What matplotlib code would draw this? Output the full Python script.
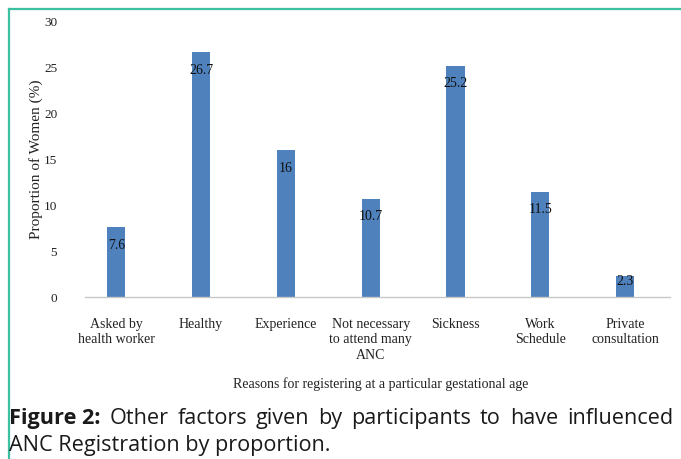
import matplotlib
matplotlib.use("Agg")
import matplotlib.pyplot as plt
from matplotlib.lines import Line2D

categories = ["Asked by\nhealth worker", "Healthy", "Experience",
              "Not necessary\nto attend many\nANC", "Sickness",
              "Work\nSchedule", "Private\nconsultation"]
values = [7.6, 26.7, 16, 10.7, 25.2, 11.5, 2.3]
value_labels = ["7.6", "26.7", "16", "10.7", "25.2", "11.5", "2.3"]
yticks = [0, 5, 10, 15, 20, 25, 30]
ylabel = "Proportion of Women (%)"
xlabel = "Reasons for registering at a particular gestational age"
caption_bold = "Figure 2:"
caption_line1 = "Other factors given by participants to have influenced"
caption_line2 = "ANC Registration by proportion."

W, H = 681, 459
fig = plt.figure(figsize=(W / 100, H / 100), dpi=100)
serif = "Liberation Serif"
bar_color = "#4f81bd"
teal = "#3dbfa2"

ax = fig.add_axes([85 / W, (H - 297) / H, 585 / W, 275 / H])
x = list(range(len(values)))
ax.bar(x, values, width=0.215, color=bar_color, zorder=2)
ax.set_xlim(-0.37, 6.53)
ax.set_ylim(0, 30)
ax.set_yticks(yticks)
ax.set_yticklabels([str(t) for t in yticks], fontfamily=serif, fontsize=9.5)
ax.set_xticks(x)
ax.set_xticklabels(categories, fontfamily=serif, fontsize=10, linespacing=1.25)
ax.tick_params(axis="y", length=0, pad=20, colors="#222222")
ax.tick_params(axis="x", length=0, pad=15, colors="#222222")
for s in ["top", "right", "left"]:
    ax.spines[s].set_visible(False)
ax.spines["bottom"].set_color("#c8c8c8")
ax.spines["bottom"].set_linewidth(1.0)
ax.set_ylabel(ylabel, fontfamily=serif, fontsize=11, color="#222222")
ax.yaxis.set_label_coords(-0.071, 0.5)
ax.set_xlabel(xlabel, fontfamily=serif, fontsize=10, color="#222222")
ax.xaxis.set_label_coords(0.505, -0.29)

for xi, v, lab in zip(x, values, value_labels):
    ylab = max(v - 1.95, 0.72 * v)
    ax.text(xi, ylab, lab, ha="center", va="center", fontfamily=serif,
            fontsize=10, color="#111111", zorder=3)

# teal frame (left and top)
fig.add_artist(Line2D([8.5 / W, 8.5 / W], [0, 1 - 8.5 / H], transform=fig.transFigure,
                      color=teal, lw=1.6))
fig.add_artist(Line2D([8.5 / W, 1], [1 - 8.5 / H, 1 - 8.5 / H], transform=fig.transFigure,
                      color=teal, lw=1.6))

# caption with justified first line
cap_font = "Open Sans"
cap_size = 15.6
fig.canvas.draw()
renderer = fig.canvas.get_renderer()
left_px, right_px = 9, 673
y1 = 1 - 424 / H
y2 = 1 - 451 / H
words = [(caption_bold, "bold")] + [(w, "normal") for w in caption_line1.split()]
texts = []
for w, wt in words:
    t = fig.text(0, y1, w, fontfamily=cap_font, fontsize=cap_size, fontweight=wt,
                 va="baseline", ha="left", color="#1a1a1a")
    texts.append(t)
widths = [t.get_window_extent(renderer).width for t in texts]
gap = (right_px - left_px - sum(widths)) / (len(texts) - 1)
pos = left_px
for t, wdt in zip(texts, widths):
    t.set_x(pos / W)
    pos += wdt + gap
fig.text(left_px / W, y2, caption_line2, fontfamily=cap_font, fontsize=cap_size,
         va="baseline", ha="left", color="#1a1a1a")

fig.savefig("out.png", dpi=100)
